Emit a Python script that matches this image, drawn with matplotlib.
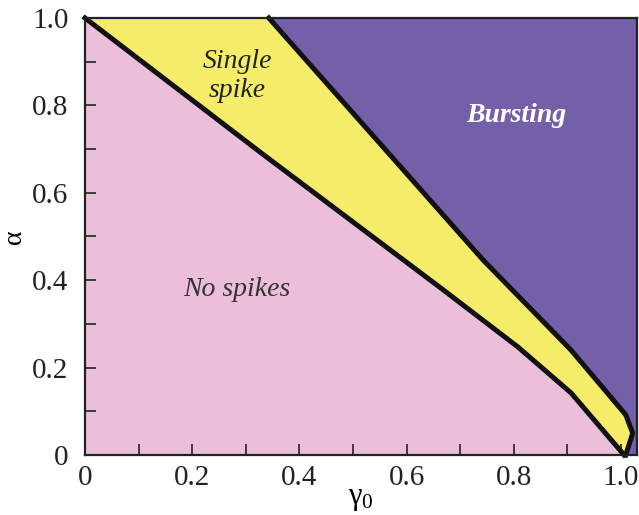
import matplotlib
matplotlib.use('Agg')
import matplotlib.pyplot as plt
from matplotlib.ticker import MultipleLocator

# boundaries (gamma0, alpha)
lower_g = [0.0, 0.33, 0.664, 0.808, 0.907, 1.006]
lower_a = [1.0, 0.69, 0.382, 0.247, 0.142, 0.0]
upper_g = [0.343, 0.743, 0.907, 1.009, 1.022, 1.009]
upper_a = [1.0, 0.446, 0.240, 0.092, 0.050, 0.0]

pink = '#ebbfd9'
yellow = '#f5ec6a'
purple = '#7360a8'

plt.rcParams['font.family'] = 'Liberation Serif'
plt.rcParams['mathtext.fontset'] = 'custom'
plt.rcParams['mathtext.rm'] = 'Liberation Serif'
plt.rcParams['mathtext.it'] = 'Liberation Serif:italic'

fig = plt.figure(figsize=(6.39, 5.15), dpi=100)
ax = fig.add_axes([85 / 639, 60 / 515, 552 / 639, 437 / 515])
ax.set_facecolor(purple)

# no spikes
ax.fill(lower_g + [0.0], lower_a + [0.0], color=pink, lw=0)
# single spike
ax.fill(lower_g + upper_g[::-1], lower_a + upper_a[::-1], color=yellow, lw=0)

ax.plot(lower_g, lower_a, color='#111111', lw=3.6, solid_joinstyle='round', clip_on=False)
ax.plot(upper_g, upper_a, color='#111111', lw=3.6, solid_joinstyle='round', clip_on=False)

ax.text(0.284, 0.868, 'Single\nspike', ha='center', va='center', fontsize=20,
        style='italic', color='#222222', linespacing=1.2)
ax.text(0.804, 0.778, 'Bursting', ha='center', va='center', fontsize=20,
        style='italic', weight='bold', color='white')
ax.text(0.284, 0.378, 'No spikes', ha='center', va='center', fontsize=20,
        style='italic', color='#333333')

ax.set_xlim(0, 1.03)
ax.set_ylim(0, 1.0)
ax.xaxis.set_minor_locator(MultipleLocator(0.1))
ax.yaxis.set_minor_locator(MultipleLocator(0.1))
ax.set_xticks([0, 0.2, 0.4, 0.6, 0.8, 1.0])
ax.set_xticklabels(['0', '0.2', '0.4', '0.6', '0.8', '1.0'])
ax.set_yticks([0, 0.2, 0.4, 0.6, 0.8, 1.0])
ax.set_yticklabels(['0', '0.2', '0.4', '0.6', '0.8', '1.0'])
ax.tick_params(which='both', direction='in', length=8, width=1.2,
               labelsize=21, colors='#222222', top=False, right=False)
ax.tick_params(axis='x', pad=7)
ax.tick_params(axis='y', pad=12)
for s in ax.spines.values():
    s.set_linewidth(1.6)
    s.set_color('#222222')

ax.set_xlabel('γ$_{0}$', fontsize=22, labelpad=-5)
ax.set_ylabel('α', fontsize=20)
ax.yaxis.set_label_coords(-58 / 552, 0.5)

fig.savefig('out.png', dpi=100)
